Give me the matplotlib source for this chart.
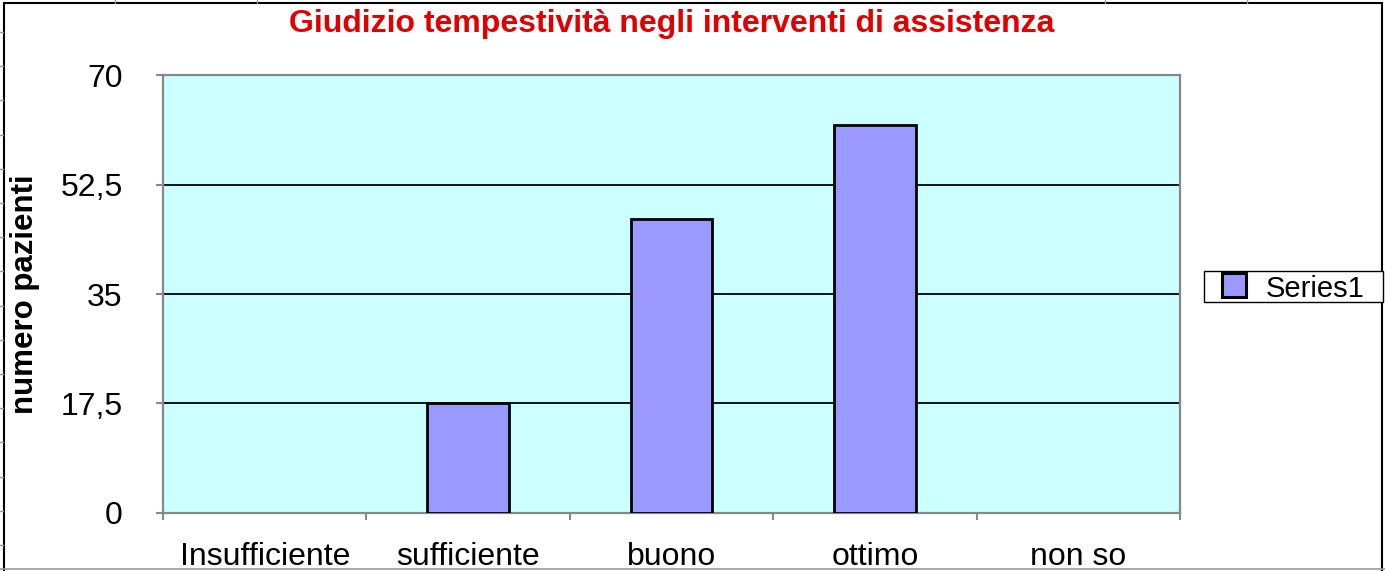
import matplotlib.pyplot as plt
from matplotlib.lines import Line2D
from matplotlib.patches import Rectangle
import numpy as np

plt.rcParams['font.family'] = ['Liberation Sans', 'DejaVu Sans']

categories = ['Insufficiente', 'sufficiente', 'buono', 'ottimo', 'non so']
values = [0, 17.5, 47, 62, 0]
y_ticks = [0, 17.5, 35, 52.5, 70]
y_tick_labels = ['0', '17,5', '35', '52,5', '70']
series_name = 'Series1'
title = 'Giudizio tempestività negli interventi di assistenza'
y_label = 'numero pazienti'

bar_color = '#9999FF'

W, H = 1385, 571
fig = plt.figure(figsize=(W / 100, H / 100), dpi=100)

# chart frame and spreadsheet leftovers around it
fig.patches.append(Rectangle((4 / W, -0.1), 1378 / W, 1.1 - 3 / H, transform=fig.transFigure,
                             fill=False, edgecolor='black', linewidth=1.5, zorder=0))
fig.lines.append(Line2D([0, 1], [1 - 569 / H] * 2, transform=fig.transFigure,
                        color='#999999', linewidth=1.2))
for yy in np.arange(32, 560, 34.2):
    fig.lines.append(Line2D([0, 3 / W], [1 - yy / H] * 2, transform=fig.transFigure,
                            color='#999999', linewidth=1))
for xx in [115, 257, 1105, 1247]:
    fig.lines.append(Line2D([xx / W] * 2, [1, 1 - 3 / H], transform=fig.transFigure,
                            color='#999999', linewidth=1))

ax = fig.add_axes([163 / W, 1 - 512.7 / H, 1017 / W, 437.4 / H])
ax.set_facecolor('#CCFFFF')

x = np.arange(len(categories))
# empty categories get no outline, like the spreadsheet does
edges = ['black' if v > 0 else 'none' for v in values]
ax.bar(x, values, width=0.4, color=bar_color, edgecolor=edges, linewidth=2,
       label=series_name, zorder=3)

ax.set_xlim(-0.5, len(categories) - 0.5)
ax.set_ylim(0, 70)
ax.set_yticks(y_ticks)
ax.set_yticklabels(y_tick_labels)
ax.set_xticks(x)
ax.set_xticklabels(categories)
ax.set_xticks(np.arange(-0.5, len(categories)), minor=True)

for yv in y_ticks[1:-1]:
    ax.axhline(yv, color='black', linewidth=1.3, zorder=2)

for s in ax.spines.values():
    s.set_color('#888888')
    s.set_linewidth(1.6)

ax.tick_params(axis='y', length=5, width=1.5, color='#888888', pad=24, labelsize=23)
ax.tick_params(axis='x', which='major', length=0, pad=21, labelsize=23)
ax.tick_params(axis='x', which='minor', length=5, width=1.5, color='#888888')

ax.set_ylabel(y_label, fontsize=22.5, fontweight='bold')
ax.yaxis.set_label_coords(-0.121, 0.5)

fig.text(672 / W, 1 - 24 / H, title, color='#E00000', fontsize=23, fontweight='bold',
         ha='center', va='center')

# legend box drawn by hand to match the spreadsheet one
fig.patches.append(Rectangle((1204 / W, 1 - 302 / H), 179 / W, 31 / H,
                             transform=fig.transFigure, facecolor='white',
                             edgecolor='black', linewidth=1))
fig.patches.append(Rectangle((1222 / W, 1 - 297 / H), 24 / W, 24 / H,
                             transform=fig.transFigure, facecolor=bar_color,
                             edgecolor='black', linewidth=2.2))
fig.text(1266 / W, 1 - 286 / H, series_name, fontsize=21, ha='left', va='center_baseline')

fig.savefig('out.png', dpi=100)
